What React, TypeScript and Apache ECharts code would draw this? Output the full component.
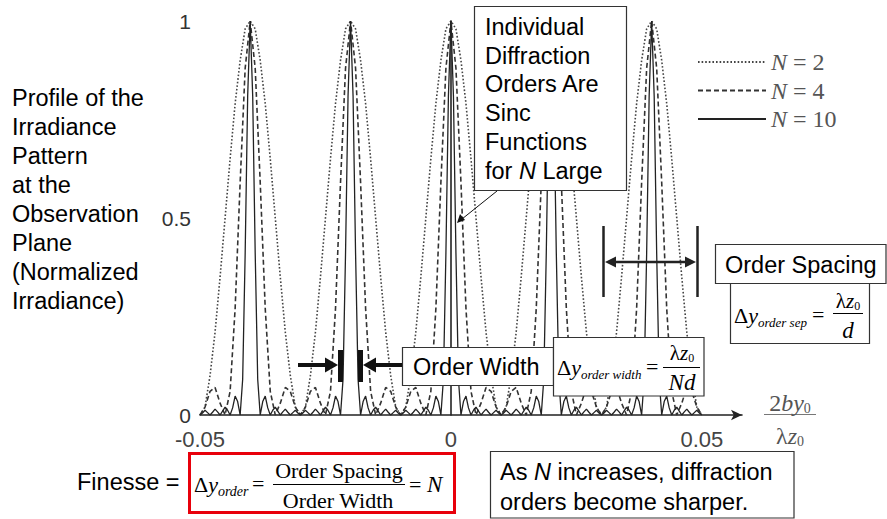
import React, { useEffect, useRef } from 'react';
import * as echarts from 'echarts';

// ---- data ----
const X_START = -0.05;
const STEP_WIDE = 0.001; // sampling step for N = 2 and N = 4
const STEP_FINE = 0.0005; // sampling step for N = 10
const X_TICKS = [-0.05, 0, 0.05];
const X_TICK_LABELS = ['-0.05', '0', '0.05'];
const Y_TICKS = [0, 0.5, 1];
const Y_TICK_LABELS = ['0', '0.5', '1'];
const SERIES_NAMES = ['N = 2', 'N = 4', 'N = 10'];

const N2_VALUES = [
  0, 0.02, 0.1, 0.21, 0.35, 0.5, 0.65, 0.79, 0.9, 0.98, 1, 0.98, 0.9, 0.79, 0.65, 0.5, 0.35, 0.21, 0.1, 0.02,
  0, 0.02, 0.1, 0.21, 0.35, 0.5, 0.65, 0.79, 0.9, 0.98, 1, 0.98, 0.9, 0.79, 0.65, 0.5, 0.35, 0.21, 0.1, 0.02,
  0, 0.02, 0.1, 0.21, 0.35, 0.5, 0.65, 0.79, 0.9, 0.98, 1, 0.98, 0.9, 0.79, 0.65, 0.5, 0.35, 0.21, 0.1, 0.02,
  0, 0.02, 0.1, 0.21, 0.35, 0.5, 0.65, 0.79, 0.9, 0.98, 1, 0.98, 0.9, 0.79, 0.65, 0.5, 0.35, 0.21, 0.1, 0.02,
  0, 0.02, 0.1, 0.21, 0.35, 0.5, 0.65, 0.79, 0.9, 0.98, 1, 0.98, 0.9, 0.79, 0.65, 0.5, 0.35, 0.21, 0.1, 0.02,
  0,
];

const N4_VALUES = [
  0, 0.02, 0.06, 0.07, 0.03, 0, 0.06, 0.27, 0.59, 0.88, 1, 0.88, 0.59, 0.27, 0.06, 0, 0.03, 0.07, 0.06, 0.02,
  0, 0.02, 0.06, 0.07, 0.03, 0, 0.06, 0.27, 0.59, 0.88, 1, 0.88, 0.59, 0.27, 0.06, 0, 0.03, 0.07, 0.06, 0.02,
  0, 0.02, 0.06, 0.07, 0.03, 0, 0.06, 0.27, 0.59, 0.88, 1, 0.88, 0.59, 0.27, 0.06, 0, 0.03, 0.07, 0.06, 0.02,
  0, 0.02, 0.06, 0.07, 0.03, 0, 0.06, 0.27, 0.59, 0.88, 1, 0.88, 0.59, 0.27, 0.06, 0, 0.03, 0.07, 0.06, 0.02,
  0, 0.02, 0.06, 0.07, 0.03, 0, 0.06, 0.27, 0.59, 0.88, 1, 0.88, 0.59, 0.27, 0.06, 0, 0.03, 0.07, 0.06, 0.02,
  0,
];

const N10_VALUES = [
  0, 0.005, 0.012, 0.006, 0, 0.007, 0.015, 0.008, 0, 0.01, 0.02, 0.012, 0, 0.018, 0.048, 0.034, 0, 0.09, 0.41, 0.81,
  1, 0.81, 0.41, 0.09, 0, 0.034, 0.048, 0.018, 0, 0.012, 0.02, 0.01, 0, 0.008, 0.015, 0.007, 0, 0.006, 0.012, 0.005,
  0, 0.005, 0.012, 0.006, 0, 0.007, 0.015, 0.008, 0, 0.01, 0.02, 0.012, 0, 0.018, 0.048, 0.034, 0, 0.09, 0.41, 0.81,
  1, 0.81, 0.41, 0.09, 0, 0.034, 0.048, 0.018, 0, 0.012, 0.02, 0.01, 0, 0.008, 0.015, 0.007, 0, 0.006, 0.012, 0.005,
  0, 0.005, 0.012, 0.006, 0, 0.007, 0.015, 0.008, 0, 0.01, 0.02, 0.012, 0, 0.018, 0.048, 0.034, 0, 0.09, 0.41, 0.81,
  1, 0.81, 0.41, 0.09, 0, 0.034, 0.048, 0.018, 0, 0.012, 0.02, 0.01, 0, 0.008, 0.015, 0.007, 0, 0.006, 0.012, 0.005,
  0, 0.005, 0.012, 0.006, 0, 0.007, 0.015, 0.008, 0, 0.01, 0.02, 0.012, 0, 0.018, 0.048, 0.034, 0, 0.09, 0.41, 0.81,
  1, 0.81, 0.41, 0.09, 0, 0.034, 0.048, 0.018, 0, 0.012, 0.02, 0.01, 0, 0.008, 0.015, 0.007, 0, 0.006, 0.012, 0.005,
  0, 0.005, 0.012, 0.006, 0, 0.007, 0.015, 0.008, 0, 0.01, 0.02, 0.012, 0, 0.018, 0.048, 0.034, 0, 0.09, 0.41, 0.81,
  1, 0.81, 0.41, 0.09, 0, 0.034, 0.048, 0.018, 0, 0.012, 0.02, 0.01, 0, 0.008, 0.015, 0.007, 0, 0.006, 0.012, 0.005,
  0,
];

const LEFT_LABEL_LINES = [
  'Profile of the',
  'Irradiance',
  'Pattern',
  'at the',
  'Observation',
  'Plane',
  '(Normalized',
  'Irradiance)',
];

const SANS = '"Liberation Sans", Arial, Helvetica, sans-serif';
const SERIF = '"Liberation Serif", "Times New Roman", Times, serif';

const toPairs = (vals: number[], step: number) =>
  vals.map((v, i) => [+(X_START + i * step).toFixed(5), v]);

let measureCtx: CanvasRenderingContext2D | null = null;
function textWidth(text: string, font: string) {
  if (!measureCtx) measureCtx = document.createElement('canvas').getContext('2d');
  measureCtx!.font = font;
  return measureCtx!.measureText(text).width;
}

const fSans = (size: number, style = 'normal') => `${style} normal ${size}px ${SANS}`;
const fSerif = (size: number, style = 'normal') => `${style} normal ${size}px ${SERIF}`;

function txt(x: number, y: number, text: string, font: string, fill = '#000', align = 'left') {
  return {
    type: 'text',
    z: 110,
    silent: true,
    x,
    y,
    style: {
      text,
      font,
      fill,
      textAlign: align,
      align,
      textVerticalAlign: 'middle',
      verticalAlign: 'middle',
    },
  };
}

type Run = [string, string, number?];
function runsAt(x: number, y: number, runs: Run[], fill = '#000') {
  const out: any[] = [];
  let cx = x;
  runs.forEach(([t, f, dy]) => {
    out.push(txt(cx, y + (dy || 0), t, f, fill));
    cx += textWidth(t, f);
  });
  return out;
}
function runsCenter(cx: number, y: number, runs: Run[], fill = '#000') {
  const total = runs.reduce((s, [t, f]) => s + textWidth(t, f), 0);
  return runsAt(cx - total / 2, y, runs, fill);
}
function box(x: number, y: number, w: number, h: number, stroke = '#333', lw = 1.2) {
  return {
    type: 'rect',
    z: 100,
    silent: true,
    shape: { x, y, width: w, height: h },
    style: { fill: '#fff', stroke, lineWidth: lw },
  };
}
function seg(x1: number, y1: number, x2: number, y2: number, stroke = '#111', lw = 1) {
  return { type: 'line', z: 105, silent: true, shape: { x1, y1, x2, y2 }, style: { stroke, lineWidth: lw } };
}
function tri(points: number[][], fill = '#111') {
  return { type: 'polygon', z: 105, silent: true, shape: { points }, style: { fill } };
}
function bar(x: number, y: number, w: number, h: number) {
  return { type: 'rect', z: 105, silent: true, shape: { x, y, width: w, height: h }, style: { fill: '#111' } };
}

function buildGraphics() {
  const g: any[] = [];
  // left descriptive text
  LEFT_LABEL_LINES.forEach((line, i) => g.push(txt(12, 98 + i * 29, line, fSans(23.5))));

  // box: individual diffraction orders
  g.push(box(474.5, 6.5, 152, 184));
  ['Individual', 'Diffraction', 'Orders Are', 'Sinc', 'Functions'].forEach((line, i) =>
    g.push(txt(485, 27 + i * 28.7, line, fSans(23.5)))
  );
  g.push(...runsAt(485, 170.5, [['for ', fSans(23.5)], ['N', fSans(23.5, 'italic')], [' Large', fSans(23.5)]]));
  g.push(seg(497, 191, 462, 219, '#111', 1));
  g.push(tri([[457, 223], [460, 214], [465, 220]]));

  // order spacing markers
  g.push(seg(603.5, 226, 603.5, 297, '#222', 2.5));
  g.push(seg(697.5, 226, 697.5, 297, '#222', 2.5));
  g.push(seg(614, 262, 687, 262, '#222', 2.5));
  g.push(tri([[605, 262], [616, 256.5], [616, 267.5]], '#222'));
  g.push(tri([[696, 262], [685, 256.5], [685, 267.5]], '#222'));

  // order spacing boxes
  g.push(box(715.5, 244.5, 170.5, 39));
  g.push(txt(725, 264.5, 'Order Spacing', fSans(23.5)));
  g.push(box(730.5, 283.5, 139, 60));
  g.push(
    ...runsAt(734, 315, [
      ['Δ', fSerif(22)],
      ['y', fSerif(22, 'italic')],
      ['order sep', fSerif(13, 'italic'), 7],
    ])
  );
  g.push(txt(812, 314, '=', fSerif(22)));
  g.push(seg(833, 313.5, 863, 313.5, '#000', 1));
  g.push(...runsCenter(848, 301, [['λ', fSerif(21)], ['z', fSerif(21, 'italic')], ['0', fSerif(12), 5]]));
  g.push(...runsCenter(848, 330, [['d', fSerif(23, 'italic')]]));

  // order width markers
  g.push(seg(298, 365, 327, 365, '#111', 4));
  g.push(tri([[338, 365], [325, 357.5], [325, 372.5]]));
  g.push(bar(338, 350, 5, 32));
  g.push(bar(358, 350, 5, 32));
  g.push(seg(374, 365, 402, 365, '#111', 4));
  g.push(tri([[363, 365], [376, 357.5], [376, 372.5]]));

  // order width boxes
  g.push(box(402.5, 347.5, 151, 38));
  g.push(txt(413, 367, 'Order Width', fSans(23.5)));
  g.push(box(553.5, 337.5, 150.5, 58.5));
  g.push(
    ...runsAt(557, 367, [
      ['Δ', fSerif(22)],
      ['y', fSerif(22, 'italic')],
      ['order width', fSerif(13, 'italic'), 7],
    ])
  );
  g.push(txt(646, 366, '=', fSerif(22)));
  g.push(seg(663, 367.5, 700, 367.5, '#000', 1));
  g.push(...runsCenter(682, 353, [['λ', fSerif(21)], ['z', fSerif(21, 'italic')], ['0', fSerif(12), 5]]));
  g.push(...runsCenter(682, 382, [['Nd', fSerif(23, 'italic')]]));

  // x-axis quantity label
  const gray = '#555';
  g.push(...runsCenter(790, 403, [['2', fSerif(24)], ['by', fSerif(24, 'italic')], ['0', fSerif(14), 5]], gray));
  g.push(seg(764, 414.5, 816, 414.5, '#777', 1.2));
  g.push(...runsCenter(790, 436, [['λ', fSerif(24)], ['z', fSerif(24, 'italic')], ['0', fSerif(14), 5]], gray));

  // finesse
  g.push(txt(77, 482, 'Finesse =', fSans(23.5)));
  g.push(box(189.5, 453.5, 265, 59, '#e8000b', 3));
  g.push(
    ...runsAt(194, 484, [
      ['Δ', fSerif(22)],
      ['y', fSerif(22, 'italic')],
      ['order', fSerif(14, 'italic'), 7],
    ])
  );
  g.push(txt(252, 483, '=', fSerif(22)));
  g.push(txt(339, 470, 'Order Spacing', fSerif(22), '#000', 'center'));
  g.push(seg(273, 484.5, 405, 484.5, '#000', 1));
  g.push(txt(338, 500, 'Order Width', fSerif(22), '#000', 'center'));
  g.push(...runsAt(409, 484, [['= ', fSerif(22)], ['N', fSerif(23, 'italic')]]));

  // bottom note
  g.push(box(490.5, 451.5, 303.5, 66.5));
  g.push(
    ...runsAt(500, 472, [
      ['As ', fSans(23.5)],
      ['N', fSans(23.5, 'italic')],
      [' increases, diffraction', fSans(23.5)],
    ])
  );
  g.push(txt(500, 502, 'orders become sharper.', fSans(23.5)));
  return g;
}

export default function App() {
  const ref = useRef<HTMLDivElement>(null);
  useEffect(() => {
    document.body.style.margin = '0';
    const chart = echarts.init(ref.current!, null, { renderer: 'svg' });
    const legendRich = {
      i: { fontFamily: SERIF, fontStyle: 'italic', fontSize: 24, color: '#555', lineHeight: 26 },
      r: { fontFamily: SERIF, fontSize: 24, color: '#555', lineHeight: 26 },
    };
    const option: any = {
      animation: false,
      backgroundColor: '#fff',
      color: ['#444', '#333', '#222'],
      grid: { left: 200, right: 145, top: 21, bottom: 104 },
      legend: {
        data: SERIES_NAMES,
        orient: 'vertical',
        left: 692,
        top: 45,
        itemWidth: 68,
        itemHeight: 14,
        itemGap: 4.5,
        selectedMode: false,
        itemStyle: { opacity: 0 },
        formatter: (name: string) => `{i|N}{r|${name.slice(1)}}`,
        textStyle: { rich: legendRich },
      },
      xAxis: {
        type: 'value',
        min: X_TICKS[0],
        max: 0.058,
        interval: 0.05,
        axisLine: {
          show: true,
          onZero: false,
          symbol: ['none', 'arrow'],
          symbolSize: [8, 11],
          lineStyle: { color: '#222', width: 1.6 },
        },
        axisTick: { show: false },
        splitLine: { show: false },
        axisLabel: {
          margin: 13,
          fontSize: 22,
          fontFamily: SANS,
          color: '#444',
          showMaxLabel: false,
          formatter: (v: number) => {
            const idx = X_TICKS.findIndex((t) => Math.abs(t - v) < 1e-9);
            return idx >= 0 ? X_TICK_LABELS[idx] : '';
          },
        },
      },
      yAxis: {
        type: 'value',
        min: Y_TICKS[0],
        max: Y_TICKS[2],
        interval: 0.5,
        axisLine: { show: true, lineStyle: { color: '#222', width: 1.6 } },
        axisTick: { show: false },
        splitLine: { show: false },
        axisLabel: {
          margin: 9,
          fontSize: 21,
          fontFamily: SANS,
          color: '#333',
          formatter: (v: number) => {
            const idx = Y_TICKS.findIndex((t) => Math.abs(t - v) < 1e-9);
            return idx >= 0 ? Y_TICK_LABELS[idx] : '';
          },
        },
      },
      series: [
        {
          name: SERIES_NAMES[0],
          type: 'line',
          data: toPairs(N2_VALUES, STEP_WIDE),
          symbol: 'none',
          showSymbol: false,
          silent: true,
          z: 2,
          itemStyle: { color: '#444' },
          lineStyle: { color: '#444', width: 1.6, type: [1.6, 2] },
        },
        {
          name: SERIES_NAMES[1],
          type: 'line',
          data: toPairs(N4_VALUES, STEP_WIDE),
          symbol: 'none',
          showSymbol: false,
          silent: true,
          z: 3,
          itemStyle: { color: '#333' },
          lineStyle: { color: '#333', width: 1.6, type: [5, 3] },
        },
        {
          name: SERIES_NAMES[2],
          type: 'line',
          data: toPairs(N10_VALUES, STEP_FINE),
          symbol: 'none',
          showSymbol: false,
          silent: true,
          z: 4,
          itemStyle: { color: '#222' },
          lineStyle: { color: '#222', width: 1.3, type: 'solid' },
        },
      ],
      graphic: { elements: buildGraphics() },
    };
    chart.setOption(option);
    return () => chart.dispose();
  }, []);
  return <div ref={ref} style={{ width: 887, height: 519 }} />;
}
